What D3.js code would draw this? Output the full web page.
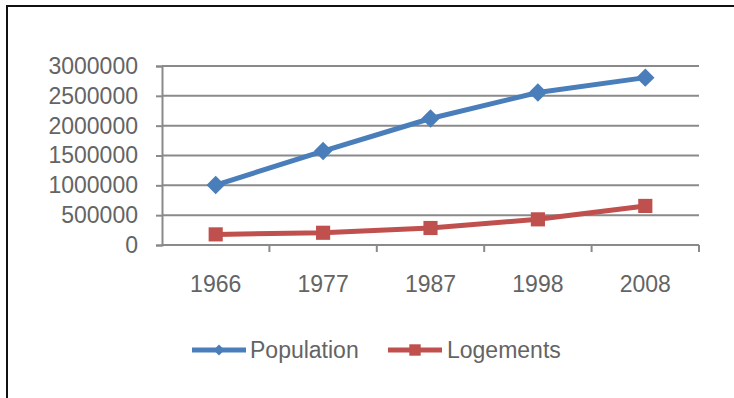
<!DOCTYPE html>
<html><head><meta charset="utf-8">
<script src="https://cdn.jsdelivr.net/npm/d3@7"></script>
<style>body{margin:0;background:#fff}svg{display:block}</style>
</head><body>
<script>
const years = ["1966","1977","1987","1998","2008"];
const population = [1005000, 1575000, 2120000, 2555000, 2805000];
const logements = [178000, 205000, 285000, 430000, 655000];
const yTicks = [0,500000,1000000,1500000,2000000,2500000,3000000];
const seriesNames = ["Population","Logements"];
const colors = ["#4a7ebb","#c0504d"];

const W=734,H=398;
const svg=d3.select("body").append("svg").attr("width",W).attr("height",H);
svg.append("rect").attr("width",W).attr("height",H).attr("fill","#fff");
svg.append("rect").attr("x",7).attr("y",6).attr("width",760).attr("height",420)
  .attr("fill","none").attr("stroke","#111").attr("stroke-width",2);

const L=162,R=699,T=66,B=245;
const x=d3.scaleBand().domain(years).range([L,R]);
const y=d3.scaleLinear().domain([0,3000000]).range([B,T]);
const font="'Liberation Sans', Arial, sans-serif";
const txt="#646464";

// gridlines
svg.append("g").selectAll("line").data(yTicks).join("line")
  .attr("x1",L).attr("x2",R).attr("y1",d=>y(d)).attr("y2",d=>y(d))
  .attr("stroke","#8a8a8a").attr("stroke-width",2);

// y axis
const ya=svg.append("g").attr("transform",`translate(${L},0)`)
  .call(d3.axisLeft(y).tickValues(yTicks).tickFormat(d3.format("d")).tickSizeOuter(0).tickSize(6).tickPadding(18));
ya.select(".domain").attr("stroke","#8a8a8a").attr("stroke-width",2);
ya.selectAll(".tick line").attr("stroke","#8a8a8a").attr("stroke-width",2);
ya.selectAll("text").attr("font-family",font).attr("font-size",23).attr("fill",txt);

// x axis
const xa=svg.append("g").attr("transform",`translate(0,${B})`)
  .call(d3.axisBottom(x).tickSize(0).tickPadding(31).tickSizeOuter(0));
xa.select(".domain").remove();
xa.selectAll("text").attr("font-family",font).attr("font-size",23).attr("fill",txt);
// category boundary ticks
svg.append("g").selectAll("line").data(years.slice(1).concat(["end"])).join("line")
  .attr("x1",d=>d==="end"?R:x(d)).attr("x2",d=>d==="end"?R:x(d))
  .attr("y1",B).attr("y2",B+7).attr("stroke","#8a8a8a").attr("stroke-width",2);

const cx=d=>x(d)+x.bandwidth()/2;
const line=d3.line().x((d,i)=>cx(years[i])).y(d=>y(d));

[population,logements].forEach((vals,k)=>{
  svg.append("path").datum(vals).attr("d",line).attr("fill","none")
    .attr("stroke",colors[k]).attr("stroke-width",5).attr("stroke-linejoin","round");
  svg.append("g").selectAll("path").data(vals).join("path")
    .attr("transform",(d,i)=>`translate(${cx(years[i])},${y(d)})${k===0?" rotate(45)":""}`)
    .attr("d",d3.symbol().type(d3.symbolSquare).size(k===0?170:200))
    .attr("fill",colors[k]);
});

// legend
const leg=[{x0:192,x1:246,tx:250},{x0:388,x1:442,tx:447}];
seriesNames.forEach((n,k)=>{
  const g=svg.append("g");
  const ly=350;
  g.append("line").attr("x1",leg[k].x0).attr("x2",leg[k].x1).attr("y1",ly).attr("y2",ly)
    .attr("stroke",colors[k]).attr("stroke-width",5);
  const m=(leg[k].x0+leg[k].x1)/2;
  g.append("path").attr("transform",`translate(${m},${ly})${k===0?" rotate(45)":""}`)
    .attr("d",d3.symbol().type(d3.symbolSquare).size(k===0?60:130)).attr("fill",colors[k]);
  g.append("text").attr("x",leg[k].tx).attr("y",ly).attr("dy","0.35em")
    .attr("font-family",font).attr("font-size",23).attr("fill",txt).text(n);
});
</script>
</body></html>
